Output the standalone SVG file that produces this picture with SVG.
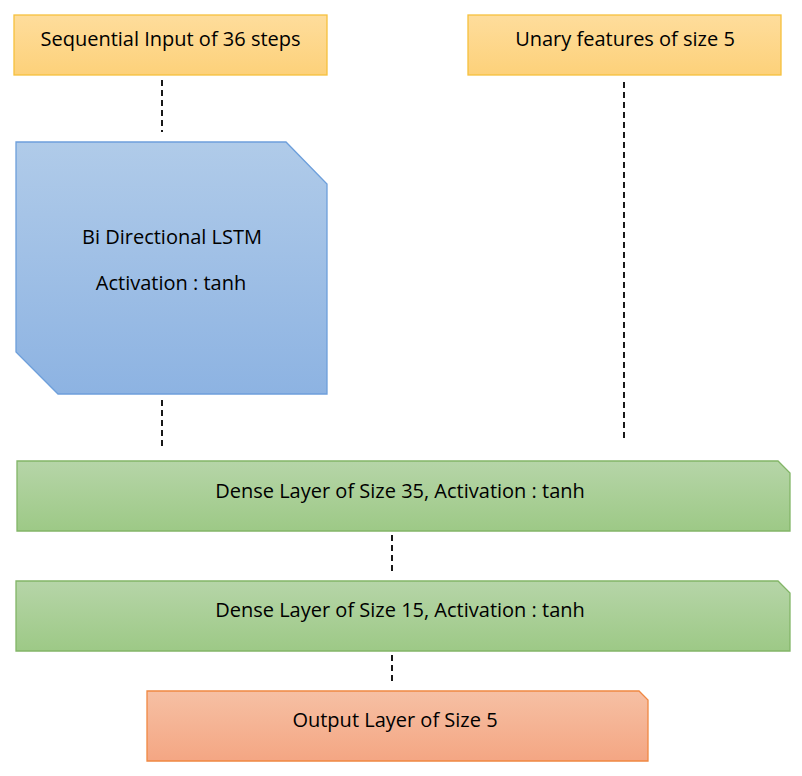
<svg xmlns="http://www.w3.org/2000/svg" width="802" height="776" viewBox="0 0 802 776">
<defs>
<linearGradient id="gy" x1="0" y1="0" x2="0" y2="1"><stop offset="0" stop-color="#fedd9c"/><stop offset="1" stop-color="#fdd17a"/></linearGradient>
<linearGradient id="gb" x1="0" y1="0" x2="0" y2="1"><stop offset="0" stop-color="#b0cbe9"/><stop offset="1" stop-color="#8db3e2"/></linearGradient>
<linearGradient id="gg" x1="0" y1="0" x2="0" y2="1"><stop offset="0" stop-color="#b6d5a8"/><stop offset="1" stop-color="#9dc986"/></linearGradient>
<linearGradient id="go" x1="0" y1="0" x2="0" y2="1"><stop offset="0" stop-color="#f6c0a4"/><stop offset="1" stop-color="#f4a683"/></linearGradient>
</defs>
<style>
text{font-family:"Open Sans","Liberation Sans",sans-serif;font-size:20px;fill:#000;text-anchor:middle}
.y{fill:url(#gy);stroke:#f6c13d;stroke-width:1.3}
.b{fill:url(#gb);stroke:#6d9fdb;stroke-width:1.3}
.g{fill:url(#gg);stroke:#82b567;stroke-width:1.3}
.o{fill:url(#go);stroke:#f08842;stroke-width:1.3}
.c line{stroke:#000;stroke-width:1.8;stroke-dasharray:6 4}
</style>
<g id="seq-input"><rect class="y" x="14" y="15" width="313" height="60"/><text x="170.5" y="39" dy="0.35em">Sequential Input of 36 steps</text></g>
<g id="unary"><rect class="y" x="468" y="15" width="313" height="60"/><text x="625" y="39" dy="0.35em">Unary features of size 5</text></g>
<g id="lstm"><path class="b" d="M16,142 H286 L327,184 V394 H58 L16,352 Z"/><text x="172" y="237" dy="0.35em">Bi Directional LSTM</text><text x="171" y="283" dy="0.35em">Activation : tanh</text></g>
<g id="dense35"><path class="g" d="M17,461 H778 L790,473 V531 H17 Z"/><text x="400" y="491" dy="0.35em">Dense Layer of Size 35, Activation : tanh</text></g>
<g id="dense15"><path class="g" d="M16,581 H778 L790,593 V651 H16 Z"/><text x="400" y="610" dy="0.35em">Dense Layer of Size 15, Activation : tanh</text></g>
<g id="output"><path class="o" d="M147,691 H639 L648,700 V761 H147 Z"/><text x="395" y="720" dy="0.35em">Output Layer of Size 5</text></g>
<g class="c" id="connectors">
<line x1="162" y1="80" x2="162" y2="132"/>
<line x1="162" y1="400" x2="162" y2="450"/>
<line x1="624" y1="82" x2="624" y2="440"/>
<line x1="392" y1="535" x2="392" y2="575"/>
<line x1="392" y1="655" x2="392" y2="685"/>
</g>
</svg>
